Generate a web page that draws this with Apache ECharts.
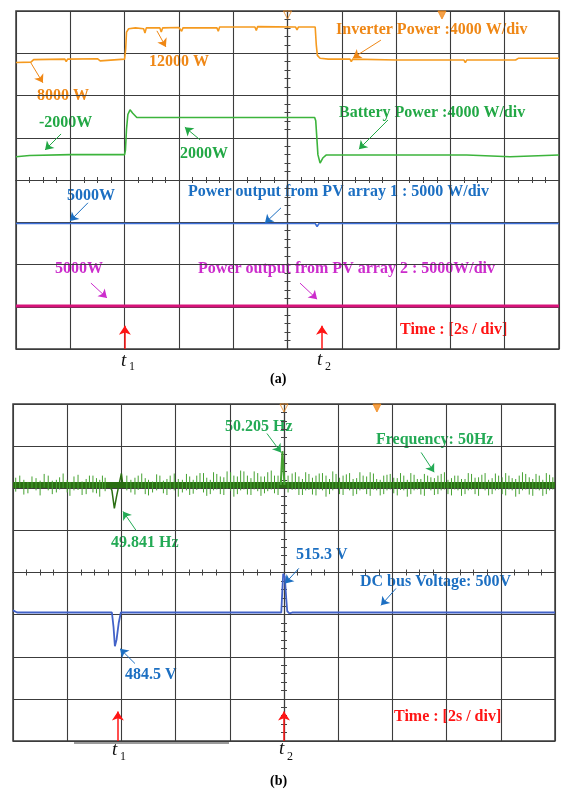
<!DOCTYPE html>
<html><head><meta charset="utf-8">
<script src="https://cdn.jsdelivr.net/npm/echarts@6/dist/echarts.min.js"></script>
<style>html,body{margin:0;padding:0;background:#fff}#c{width:562px;height:791px}</style>
</head><body><div id="c"></div>
<script>
// ---- Data: time in seconds (2 s/div), value in screen divisions ----
const inverterPower = [[-10,2.78],[-9.45,2.79],[-9.35,2.85],[-8.2,2.86],[-8.15,2.80],[-8.1,2.86],[-7.0,2.87],[-6.9,2.82],[-6.85,2.86],[-6.0,2.86],[-5.96,3.1],[-5.93,3.5],[-5.85,3.58],[-5.6,3.60],[-5.3,3.58],[-5.25,3.48],[-5.2,3.6],[-4.7,3.6],[-4.65,3.5],[-4.6,3.6],[-4.0,3.61],[-3.9,3.52],[-3.85,3.6],[-2.6,3.6],[-2.55,3.52],[-2.5,3.62],[-1.2,3.62],[-1.15,3.54],[-1.1,3.63],[0.3,3.62],[0.35,3.55],[0.4,3.62],[1.02,3.62],[1.06,3.2],[1.1,2.95],[1.2,2.88],[1.5,2.86],[2.3,2.86],[2.35,2.8],[2.4,2.86],[4.0,2.84],[4.05,2.8],[4.1,2.84],[6.5,2.84],[6.55,2.78],[6.6,2.84],[8.4,2.84],[8.5,2.88],[10,2.88]];
const batteryPower = [[-10,0.55],[-9.5,0.58],[-8.0,0.6],[-6.0,0.6],[-5.97,0.7],[-5.93,1.2],[-5.88,1.55],[-5.8,1.66],[-5.7,1.58],[-5.55,1.48],[-3.0,1.48],[-2.95,1.44],[-2.9,1.48],[1.0,1.48],[1.04,1.4],[1.12,0.6],[1.2,0.40],[1.3,0.52],[1.42,0.59],[6.6,0.59],[6.65,0.55],[8.2,0.55],[8.25,0.59],[10,0.59]];
const pvArray1 = [[-10,-1.03],[-6.0,-1.03],[-5.95,-0.99],[-5.9,-1.03],[1.02,-1.03],[1.09,-1.10],[1.16,-1.03],[10,-1.03]];
const pvArray2 = [[-10,-2.98],[10,-2.98]];
const freqBand = [[-10,2.08],[-6.5,2.08],[-5.9,2.08],[10,2.08]];
// [time, top, bottom] of the noise spikes on the frequency trace
const freqSpikes = [[-9.9,2.25,1.92],[-9.6,2.2,1.85],[-9.3,2.28,2.0],[-9.0,2.18,1.83],[-8.7,2.3,1.95],[-8.4,2.2,1.9],[-8.15,2.35,2.0],[-7.9,2.15,1.82],[-7.6,2.32,1.96],[-7.3,2.22,1.86],[-7.05,2.3,1.9],[-6.8,2.2,1.8],[-6.6,2.25,1.93],
[-5.8,2.3,1.95],[-5.5,2.25,1.85],[-5.25,2.35,2.0],[-5.0,2.2,1.83],[-4.7,2.33,1.95],[-4.45,2.18,1.88],[-4.2,2.3,1.97],[-3.9,2.22,1.8],[-3.6,2.34,1.95],[-3.35,2.2,1.87],[-3.1,2.36,1.98],[-2.85,2.25,1.82],[-2.6,2.38,1.95],[-2.35,2.28,1.86],[-2.1,2.4,1.98],[-1.85,2.3,1.8],[-1.6,2.42,1.95],[-1.35,2.3,1.85],[-1.1,2.4,1.97],[-0.85,2.28,1.82],[-0.6,2.38,1.93],[-0.35,2.3,1.88],
[0.3,2.35,1.96],[0.55,2.28,1.84],[0.8,2.38,1.95],[1.05,2.25,1.85],[1.3,2.35,1.97],[1.55,2.3,1.8],[1.8,2.4,1.95],[2.05,2.25,1.86],[2.3,2.33,1.98],[2.55,2.22,1.82],[2.8,2.38,1.95],[3.05,2.28,1.86],[3.3,2.35,1.97],[3.55,2.2,1.83],[3.8,2.32,1.95],[4.05,2.25,1.88],[4.3,2.36,1.96],[4.55,2.2,1.8],[4.8,2.32,1.95],[5.05,2.22,1.85],[5.3,2.3,1.98],[5.55,2.24,1.84],[5.8,2.34,1.95],[6.05,2.2,1.86],[6.3,2.3,1.97],[6.55,2.22,1.82],[6.8,2.36,1.95],[7.05,2.25,1.86],[7.3,2.32,1.98],[7.55,2.2,1.83],[7.8,2.35,1.95],[8.05,2.26,1.86],[8.3,2.3,1.97],[8.55,2.22,1.8],[8.8,2.38,1.95],[9.05,2.26,1.85],[9.3,2.34,1.97],[9.55,2.2,1.82],[9.8,2.32,1.95],
[-9.75,2.3,2.0],[-9.45,2.15,1.88],[-9.15,2.24,1.95],[-8.85,2.34,2.02],[-8.55,2.18,1.86],[-8.28,2.26,1.97],[-8.0,2.2,1.9],[-7.75,2.28,1.95],[-7.45,2.16,1.84],[-7.18,2.3,2.0],[-6.92,2.24,1.88],[-6.7,2.3,1.98],
[-5.65,2.2,1.9],[-5.38,2.3,1.96],[-5.12,2.24,1.86],[-4.85,2.16,1.9],[-4.58,2.3,1.98],[-4.32,2.22,1.84],[-4.05,2.35,1.95],[-3.75,2.2,1.9],[-3.48,2.28,1.84],[-3.22,2.3,1.96],[-2.97,2.36,1.9],[-2.72,2.2,1.86],[-2.48,2.34,1.97],[-2.22,2.26,1.84],[-1.97,2.38,1.94],[-1.72,2.28,1.86],[-1.48,2.4,1.97],[-1.22,2.24,1.84],[-0.97,2.36,1.93],[-0.72,2.28,1.88],[-0.47,2.42,1.97],[-0.22,2.3,1.84],
[0.15,2.3,1.9],[0.42,2.38,1.97],[0.68,2.22,1.84],[0.92,2.34,1.96],[1.18,2.3,1.83],[1.42,2.36,1.95],[1.68,2.22,1.86],[1.92,2.34,1.98],[2.18,2.3,1.84],[2.42,2.36,1.95],[2.68,2.24,1.86],[2.92,2.3,1.97],[3.18,2.38,1.82],[3.42,2.22,1.95],[3.68,2.3,1.86],[3.92,2.34,1.97],[4.18,2.24,1.83],[4.42,2.3,1.95],[4.68,2.36,1.86],[4.92,2.22,1.97],[5.18,2.34,1.82],[5.42,2.26,1.95],[5.68,2.3,1.86],[5.92,2.38,1.97],[6.18,2.24,1.83],[6.42,2.3,1.95],[6.68,2.22,1.86],[6.92,2.34,1.97],[7.18,2.26,1.82],[7.42,2.36,1.95],[7.68,2.24,1.86],[7.92,2.3,1.97],[8.18,2.36,1.83],[8.42,2.24,1.95],[8.68,2.3,1.86],[8.92,2.34,1.97],[9.18,2.22,1.82],[9.42,2.3,1.95],[9.68,2.36,1.86],[9.92,2.26,1.97]];
const freqDip = [[-6.45,2.08],[-6.35,1.95],[-6.26,1.52],[-6.18,1.80],[-6.1,2.05],[-6.0,2.35],[-5.95,2.08]];
const freqPeak = [[-0.12,2.08],[-0.06,2.88],[-0.02,2.92],[0.02,2.08]];
const dcVoltage = [[-10,-0.90],[-9.85,-0.95],[-6.35,-0.95],[-6.29,-1.3],[-6.24,-1.75],[-6.18,-1.6],[-6.1,-1.2],[-6.02,-0.95],[-0.1,-0.95],[-0.06,-0.4],[-0.03,-0.03],[0.03,-0.1],[0.08,-0.6],[0.12,-0.92],[0.2,-0.97],[0.3,-0.95],[10,-0.95]];
const xTicks = {min:-10, max:10, interval:2};
const yTicks = {min:-4, max:4, interval:1};
// arrows: [from, to] in data units
const arrowsTop = {
  orange: [[[3.44,3.31],[2.41,2.89]], [[-4.81,3.53],[-4.48,3.15]], [[-9.45,2.77],[-9.01,2.30]]],
  green: [[[-8.34,1.09],[-8.93,0.71]], [[-3.22,0.95],[-3.78,1.25]], [[3.70,1.42],[2.63,0.73]]],
  blue: [[[-7.35,-0.54],[-8.01,-0.97]], [[-0.24,-0.66],[-0.83,-1.02]]],
  magenta: [[[-7.24,-2.44],[-6.65,-2.79]], [[0.46,-2.44],[1.09,-2.82]]],
  red: [[[-5.99,-4],[-5.99,-3.45]], [[1.27,-4],[1.27,-3.45]]]
};
const arrowsBottom = {
  green: [[[-0.63,3.30],[-0.11,2.85]], [[5.06,2.85],[5.54,2.38]], [[-5.46,1.00],[-5.94,1.45]]],
  blue: [[[0.55,0.10],[0.04,-0.26]], [[4.13,-0.38],[3.58,-0.78]], [[-5.50,-2.16],[-6.05,-1.81]]],
  red: [[[-6.13,-4],[-6.13,-3.3]], [[0,-4],[0,-3.3]]]
};
const triggerMarks = {top:[[0,4],[5.69,4]], bottom:[[0,4],[3.43,4]]};

const C = {orange:'#f59a1f', orangeT:'#ef8715', green:'#3cb43c', greenT:'#22a845', blue:'#3d6fd8', blueT:'#1c6fc2', pink:'#d8127a', magentaT:'#cc2ccc', red:'#ff1414', dgreen:'#2a6e12', lgreen:'#46a232', volt:'#4262c8', greenB:'#23aa55'};

function axes(g) {
  const yi = 2*g, xi = 2*g;
  const gridLine = {show:true, lineStyle:{color:'#3c3c3c', width:1.1}};
  const xa = (pos, main) => ({type:'value', gridIndex:g, position:pos, ...xTicks,
    axisLabel:{show:false}, axisTick:{show:false},
    axisLine:{show:true, onZero:true, onZeroAxisIndex:yi, lineStyle:{color:'#3c3c3c', width:1.1}},
    minorTick:{show:true, splitNumber:4, length:3, lineStyle:{color:'#444', width:1}},
    splitLine: main ? gridLine : {show:false}, minorSplitLine:{show:false}});
  const ya = (pos, main) => ({type:'value', gridIndex:g, position:pos, ...yTicks,
    axisLabel:{show:false}, axisTick:{show:false},
    axisLine:{show:true, onZero:true, onZeroAxisIndex:xi, lineStyle:{color:'#3c3c3c', width:1.1}},
    minorTick:{show:true, splitNumber:5, length:3, lineStyle:{color:'#444', width:1}},
    splitLine: main ? gridLine : {show:false}, minorSplitLine:{show:false}});
  return {x:[xa('bottom',true), xa('top',false)], y:[ya('left',true), ya('right',false)]};
}
const a0 = axes(0), a1 = axes(1);

function ml(list, color, width, size) {
  return {silent:true, symbol:['none','arrow'], symbolSize:size||8, animation:false,
    label:{show:false}, emphasis:{disabled:true},
    lineStyle:{color:color, width:width||1, type:'solid'},
    data: list.map(p => [{coord:p[0]},{coord:p[1]}])};
}
function annot(g, list, color, width, size) {
  return {type:'line', xAxisIndex:2*g, yAxisIndex:2*g, data:[], symbol:'none', markLine: ml(list, color, width, size)};
}
function line(g, data, color, width, z) {
  return {type:'line', xAxisIndex:2*g, yAxisIndex:2*g, data, symbol:'none', z:z||2,
    lineStyle:{color, width}, itemStyle:{color}, animation:false};
}

const F = 'bold 16px "Liberation Serif", "Times New Roman", serif';
function txt(s, x, y, fill, font) {
  return {type:'text', x, y, style:{text:s, fill, font:font||F, verticalAlign:'middle', align:'left'}};
}
const texts = [
  txt('Inverter Power :4000 W/div', 336, 30, C.orangeT),
  txt('12000 W', 149, 62, C.orangeT),
  txt('8000 W', 37, 96, C.orangeT),
  txt('-2000W', 39, 123, C.greenT),
  txt('2000W', 180, 154, C.greenT),
  txt('Battery Power :4000 W/div', 339, 113, C.greenT),
  txt('5000W', 67, 196, C.blueT),
  txt('Power output from PV array 1 : 5000 W/div', 188, 192, C.blueT),
  txt('5000W', 55, 269, C.magentaT),
  txt('Power output from PV array 2 : 5000W/div', 198, 269, C.magentaT),
  txt('Time : [2s / div]', 400, 330, C.red),
  txt('t', 121, 361, '#111', 'italic 19px "Liberation Serif", serif'),
  txt('1', 129, 367, '#111', '12px "Liberation Serif", serif'),
  txt('t', 317, 360, '#111', 'italic 19px "Liberation Serif", serif'),
  txt('2', 325, 367, '#111', '12px "Liberation Serif", serif'),
  txt('(a)', 270, 379, '#000', 'bold 14px "Liberation Serif", serif'),
  txt('50.205 Hz', 225, 427, C.greenB),
  txt('Frequency: 50Hz', 376, 440, C.greenB),
  txt('49.841 Hz', 111, 543, C.greenB),
  txt('515.3 V', 296, 555, C.blueT),
  txt('DC bus Voltage: 500V', 360, 582, C.blueT),
  txt('484.5 V', 125, 675, C.blueT),
  txt('Time : [2s / div]', 394, 717, C.red),
  txt('t', 112, 750, '#111', 'italic 19px "Liberation Serif", serif'),
  txt('1', 120, 757, '#111', '12px "Liberation Serif", serif'),
  txt('t', 279, 749, '#111', 'italic 19px "Liberation Serif", serif'),
  txt('2', 287, 757, '#111', '12px "Liberation Serif", serif'),
  txt('(b)', 270, 781, '#000', 'bold 14px "Liberation Serif", serif'),
  {type:'line', shape:{x1:74, y1:743, x2:229, y2:743}, style:{stroke:'#9a9a9a', lineWidth:2}}
];

const marker = (g, pts) => ({type:'scatter', xAxisIndex:2*g, yAxisIndex:2*g, data:pts, symbol:'triangle', symbolRotate:180, symbolSize:8, symbolOffset:[0,4], z:5,
  itemStyle:{color:(p)=> p.dataIndex===0 ? 'rgba(0,0,0,0)' : '#f28a1a', borderColor:'#f28a1a', borderWidth:1}, silent:true, animation:false});

const option = {
  backgroundColor:'#fff', animation:false,
  grid:[{left:16, top:11, width:543, height:338, show:true, borderColor:'#3c3c3c', borderWidth:1.5, backgroundColor:'transparent'},
        {left:13, top:404, width:542, height:337, show:true, borderColor:'#3c3c3c', borderWidth:1.5, backgroundColor:'transparent'}],
  xAxis:[...a0.x, ...a1.x],
  yAxis:[...a0.y, ...a1.y],
  graphic: texts,
  series:[
    line(0, inverterPower, C.orange, 1.6),
    line(0, batteryPower, C.green, 1.6),
    line(0, pvArray1, C.blue, 1.6),
    line(0, pvArray2, C.pink, 3),
    annot(0, arrowsTop.orange, C.orangeT),
    annot(0, arrowsTop.green, C.greenT),
    annot(0, arrowsTop.blue, C.blueT),
    annot(0, arrowsTop.magenta, C.magentaT),
    annot(0, arrowsTop.red, C.red, 1.5, 9),
    marker(0, triggerMarks.top),
    line(1, freqBand, C.dgreen, 6),
    {type:'custom', xAxisIndex:2, yAxisIndex:2, data:freqSpikes, encode:{x:0, y:[1,2]}, z:3, silent:true, animation:false,
      renderItem:(params, api) => {
        const p1 = api.coord([api.value(0), api.value(1)]);
        const p2 = api.coord([api.value(0), api.value(2)]);
        return {type:'line', shape:{x1:p1[0], y1:p1[1], x2:p2[0], y2:p2[1]}, style:{stroke:C.lgreen, lineWidth:1}};
      }},
    line(1, freqDip, C.dgreen, 1.5, 4),
    line(1, freqPeak, C.lgreen, 2, 4),
    line(1, dcVoltage, C.volt, 1.8),
    annot(1, arrowsBottom.green, C.greenB),
    annot(1, arrowsBottom.blue, C.blueT),
    annot(1, arrowsBottom.red, C.red, 1.5, 9),
    marker(1, triggerMarks.bottom)
  ]
};
const chart = echarts.init(document.getElementById('c'), null, {renderer:'canvas'});
chart.setOption(option);
</script></body></html>
